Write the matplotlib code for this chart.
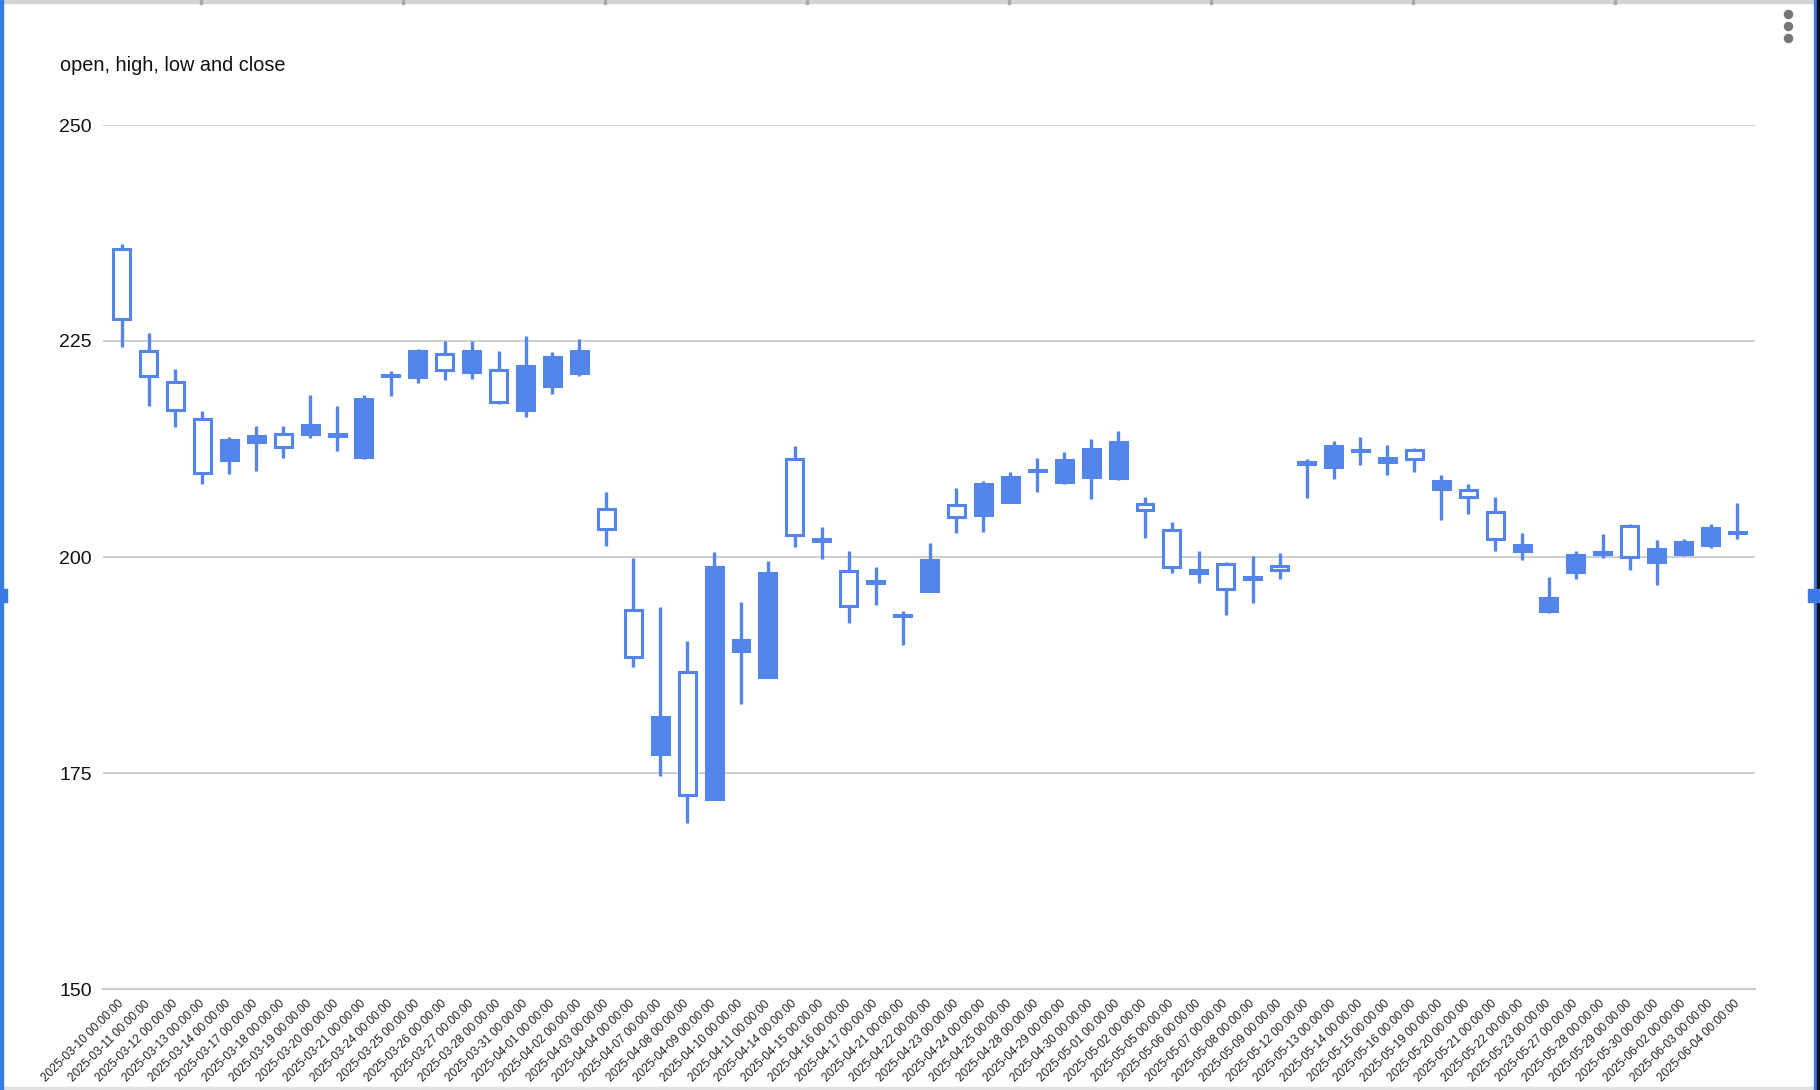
import matplotlib
matplotlib.use('Agg')
import matplotlib.pyplot as plt
from matplotlib.patches import Rectangle
from matplotlib.lines import Line2D

plt.rcParams['font.family'] = ['Liberation Sans', 'DejaVu Sans']

########################################################################
# data (open, high, low, close)

dates = ['2025-03-10', '2025-03-11', '2025-03-12', '2025-03-13', '2025-03-14',
         '2025-03-17', '2025-03-18', '2025-03-19', '2025-03-20', '2025-03-21',
         '2025-03-24', '2025-03-25', '2025-03-26', '2025-03-27', '2025-03-28',
         '2025-03-31', '2025-04-01', '2025-04-02', '2025-04-03', '2025-04-04',
         '2025-04-07', '2025-04-08', '2025-04-09', '2025-04-10', '2025-04-11',
         '2025-04-14', '2025-04-15', '2025-04-16', '2025-04-17', '2025-04-21',
         '2025-04-22', '2025-04-23', '2025-04-24', '2025-04-25', '2025-04-28',
         '2025-04-29', '2025-04-30', '2025-05-01', '2025-05-02', '2025-05-05',
         '2025-05-06', '2025-05-07', '2025-05-08', '2025-05-09', '2025-05-12',
         '2025-05-13', '2025-05-14', '2025-05-15', '2025-05-16', '2025-05-19',
         '2025-05-20', '2025-05-21', '2025-05-22', '2025-05-23', '2025-05-27',
         '2025-05-28', '2025-05-29', '2025-05-30', '2025-06-02', '2025-06-03',
         '2025-06-04']

opens = [235.6, 223.8, 220.2, 216.0, 211.2, 213.3, 214.2, 214.2, 214.0, 211.6,
         220.9, 220.8, 223.5, 221.4, 221.7, 217.0, 219.8, 221.3, 205.5, 193.9,
         177.2, 186.7, 172.0, 189.1, 186.1, 211.4, 201.9, 198.4, 197.2, 193.3,
         196.1, 206.0, 204.9, 206.4, 210.0, 208.7, 209.3, 209.1, 206.1, 203.1,
         198.2, 199.2, 197.7, 199.0, 211.0, 210.4, 212.4, 211.0, 212.4, 207.9,
         207.7, 205.2, 200.7, 193.7, 198.3, 200.6, 203.6, 199.4, 200.3, 201.4,
         202.9]

highs = [236.2, 225.9, 221.8, 216.9, 213.9, 215.2, 215.2, 218.8, 217.5, 218.8,
         221.5, 224.1, 225.0, 225.0, 223.8, 225.6, 223.7, 225.2, 207.5, 199.9,
         194.2, 190.3, 200.6, 194.8, 199.5, 212.9, 203.5, 200.7, 198.8, 193.8,
         201.6, 208.0, 208.8, 209.8, 211.5, 212.2, 213.6, 214.6, 207.0, 204.1,
         200.7, 199.4, 200.1, 200.5, 211.3, 213.4, 213.9, 213.0, 212.6, 209.5,
         208.5, 207.0, 202.8, 197.7, 200.7, 202.7, 203.8, 202.0, 202.1, 203.8,
         206.2]

lows = [224.3, 217.5, 215.0, 208.5, 209.6, 210.0, 211.5, 213.8, 212.3, 211.3,
        218.6, 220.1, 220.5, 220.6, 217.7, 216.2, 218.9, 221.0, 201.3, 187.3,
        174.6, 169.2, 171.9, 183.0, 186.1, 201.2, 199.8, 192.4, 194.4, 189.8,
        196.0, 202.8, 202.9, 206.2, 207.5, 208.4, 206.7, 208.9, 202.2, 198.2,
        197.0, 193.3, 194.7, 197.5, 206.8, 209.0, 210.6, 209.5, 209.8, 204.3,
        205.0, 200.7, 199.7, 193.5, 197.4, 199.9, 198.5, 196.8, 200.1, 201.0,
        202.1]

closes = [227.5, 220.9, 217.0, 209.7, 213.5, 214.0, 212.7, 215.3, 214.2, 218.3,
          221.1, 223.8, 221.6, 223.9, 217.9, 222.1, 223.2, 223.9, 203.2, 188.4,
          181.5, 172.4, 198.9, 190.4, 198.2, 202.5, 202.1, 194.3, 197.0, 193.2,
          199.7, 204.6, 208.4, 209.3, 210.1, 211.2, 212.5, 213.3, 205.4, 198.9,
          198.5, 196.3, 197.5, 198.5, 210.8, 212.9, 212.3, 211.5, 211.3, 208.8,
          206.9, 202.1, 201.4, 195.3, 200.2, 200.4, 200.0, 200.9, 201.7, 203.3,
          202.8]

y_ticks = [150, 175, 200, 225, 250]

########################################################################

blue = '#5385ea'
W, H = 1820, 1090

fig = plt.figure(figsize=(W / 100, H / 100), dpi=100)
ax = fig.add_axes([103 / W, 1 - 989 / H, (1755 - 103) / W, (989 - 125) / H])

xs = list(range(len(dates)))

# wicks
ax.vlines(xs, lows, highs, colors=blue, linewidth=2.4, zorder=2,
          capstyle='butt')

# bodies: filled when close > open, hollow otherwise (as in the chart)
bottoms = [min(o, c) for o, c in zip(opens, closes)]
heights = [abs(c - o) for o, c in zip(opens, closes)]
faces = [blue if c > o else 'white' for o, c in zip(opens, closes)]
ax.bar(xs, heights, bottom=bottoms, width=0.63, color=faces,
       edgecolor=blue, linewidth=2.2, zorder=3)

ax.set_xlim(-0.69, 60.65)
ax.set_ylim(150, 250)
ax.set_yticks(y_ticks)
ax.set_yticklabels([str(t) for t in y_ticks])
ax.yaxis.grid(True, color='#cccccc', linewidth=1.3, zorder=0)
ax.axhline(150, color='#cccccc', linewidth=1.6, zorder=1, clip_on=False)
ax.set_axisbelow(True)
for s in ax.spines.values():
    s.set_visible(False)

ax.set_xticks(xs)
ax.set_xticklabels([d + ' 00:00:00' for d in dates], rotation=45,
                   ha='right', va='center', rotation_mode='anchor',
                   fontsize=8.6, color='#222222')
ax.tick_params(axis='x', length=0, pad=9.5)
ax.tick_params(axis='y', length=0, pad=8, labelsize=14, labelcolor='#111111')

fig.text(60 / W, 1 - 71 / H, 'open, high, low and close', fontsize=14.3,
         color='#111111', ha='left', va='baseline')

########################################################################
# sheet frame around the embedded chart

fig.add_artist(Rectangle((0, 1 - 3 / H), 1, 3 / H, transform=fig.transFigure,
                         color='#d4d4d4', zorder=5))
for cx in [200, 402, 604, 806, 1008, 1210, 1412, 1614]:
    fig.add_artist(Rectangle((cx / W, 1 - 4 / H), 2 / W, 4 / H,
                             transform=fig.transFigure, color='#a8a8a8',
                             zorder=6))
fig.add_artist(Rectangle((0, 0), 1, 3 / H, transform=fig.transFigure,
                         color='#e2e2e2', zorder=5))
fig.add_artist(Rectangle((0, 0), 3 / W, 1, transform=fig.transFigure,
                         color='#3b7be8', zorder=7))
fig.add_artist(Rectangle((1814 / W, 0), 3 / W, 1, transform=fig.transFigure,
                         color='#3b7be8', zorder=7))
fig.add_artist(Rectangle((1817 / W, 0), 3 / W, 1, transform=fig.transFigure,
                         color='#111111', zorder=7))
fig.add_artist(Rectangle((0, 1 - 602 / H), 7 / W, 13 / H,
                         transform=fig.transFigure, color='#3b7be8', zorder=8))
fig.add_artist(Rectangle((1808 / W, 1 - 602 / H), 12 / W, 13 / H,
                         transform=fig.transFigure, color='#3b7be8', zorder=8))

# menu dots
fig.add_artist(Line2D([1788 / W] * 3, [1 - 14 / H, 1 - 26 / H, 1 - 38 / H],
                      transform=fig.transFigure, linestyle='none',
                      marker='o', markersize=5.8, color='#767676'))

plt.savefig('out.png', dpi=100)
